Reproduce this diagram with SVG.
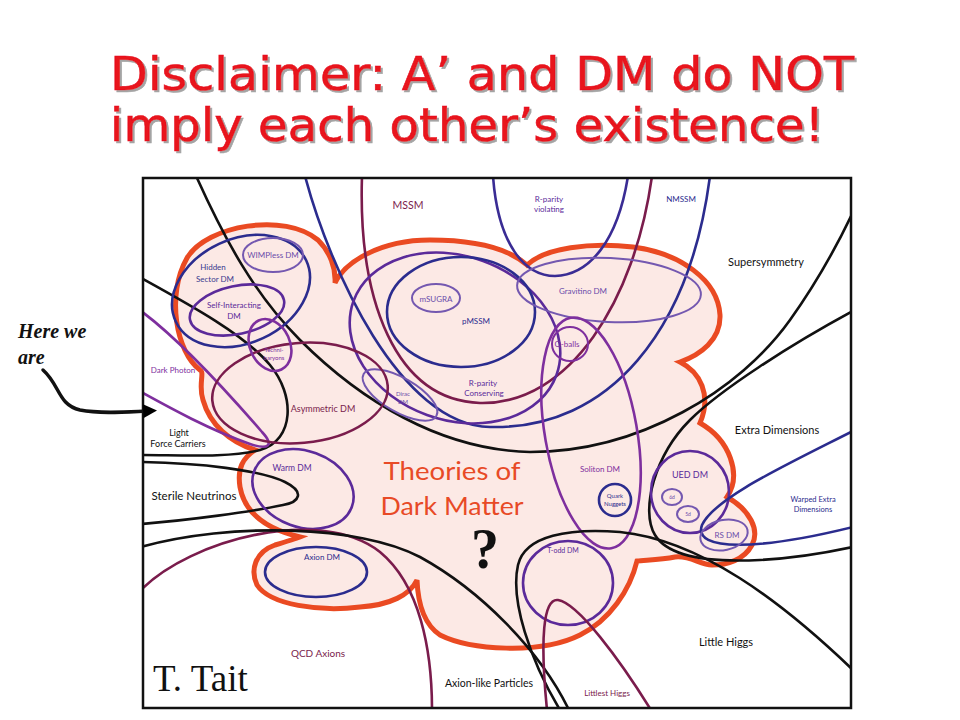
<svg xmlns="http://www.w3.org/2000/svg" width="960" height="720" viewBox="0 0 960 720">
<defs>
<clipPath id="frameClip"><rect x="143" y="178" width="708" height="530"/></clipPath>
<filter id="titleShadow" x="-5%" y="-20%" width="110%" height="150%"><feDropShadow dx="2" dy="2" stdDeviation="0.6" flood-color="#9a9a9a" flood-opacity="0.9"/></filter>
<marker id="arrowHead" viewBox="0 0 10 10" refX="2" refY="5" markerWidth="4" markerHeight="4" orient="auto" markerUnits="strokeWidth"><path d="M0,0 L10,5 L0,10 z" fill="#000"/></marker>
<style>
.ln{fill:none;stroke-width:2.6;stroke-linecap:round}
.blk{stroke:#111}
.navy{stroke:#2b2c8e}
.vio{stroke:#5b2a9a}
.pur{stroke:#7e2f9e}
.lv{stroke:#7458b0;stroke-width:2}
.mar{stroke:#7a1c4c}
.t{font-family:Lato,"Open Sans","Liberation Sans",sans-serif;text-anchor:middle}
.s6{font-size:6px}.s8{font-size:8px}.s9{font-size:9px}.s11{font-size:11px}
.cnavy{fill:#2b2c8e}.cvio{fill:#5b2a9a}.cpur{fill:#7e2f9e}.clv{fill:#6a4caa}.cmar{fill:#7a1c4c}.cblk{fill:#111}
.title{font-family:"DejaVu Sans","Liberation Sans",sans-serif;font-size:46px;fill:#e8121e;stroke:#e8121e;stroke-width:0.6;filter:url(#titleShadow)}
</style>
</defs>
<rect width="960" height="720" fill="#fff"/>

<g id="title">
<text class="title" x="110" y="90" textLength="744" lengthAdjust="spacingAndGlyphs">Disclaimer: A’ and DM do NOT</text>
<text class="title" x="110" y="141" textLength="714" lengthAdjust="spacingAndGlyphs">imply each other’s existence!</text>
</g>

<g id="theories-of-dark-matter">
<path d="M200,370 C176,352 166,295 187,258 C207,225 285,212 318,240 C330,252 336,268 335,283 C345,262 380,240 430,240 C480,240 510,250 527,265 C545,248 590,242 633,247 C680,253 718,280 720,315 C721,340 700,355 680,362 C700,372 712,395 700,423 C730,440 742,475 727,497 C750,510 760,530 752,545 C744,560 727,565 712,565 C700,565 690,555 675,557 C660,560 645,560 637,561 C630,590 610,620 580,635 C540,655 470,650 440,635 C425,625 418,605 417,580 C410,595 390,605 360,607 C320,612 270,605 257,585 C250,570 255,552 275,545 C285,542 295,539 300,537 C270,530 245,515 240,487 C237,468 243,458 255,450 C230,442 210,425 203,400 C198,385 205,372 200,370 Z" fill="#fce9e5" stroke="#ea4a22" stroke-width="5" stroke-linejoin="miter"/>
<text class="t" x="452" y="480" font-size="25" fill="#e84a26" textLength="137" lengthAdjust="spacingAndGlyphs">Theories of</text>
<text class="t" x="452" y="515" font-size="25" fill="#e84a26" textLength="143" lengthAdjust="spacingAndGlyphs">Dark Matter</text>
<text x="485" y="568" font-family="'Liberation Serif',serif" font-weight="bold" font-size="56" text-anchor="middle" fill="#111">?</text>
</g>

<g clip-path="url(#frameClip)">
<g id="supersymmetry">
<path class="ln blk" d="M197,178 C225,240 255,295 300,340 C360,400 440,450 530,452 C640,452 740,390 790,320 C815,285 835,250 853,212"/>
<text class="t s11 cblk" x="766" y="266">Supersymmetry</text>
</g>
<g id="mssm">
<path class="ln mar" d="M362,176 C358,300 395,400 480,403 C570,405 635,300 652,176"/>
<text class="t cmar" x="408" y="209" font-size="10.5">MSSM</text>
</g>
<g id="nmssm">
<path class="ln navy" d="M305,176 C330,270 400,425 490,427 C610,430 690,330 710,176"/>
<text class="t s8 cnavy" x="681" y="202">NMSSM</text>
</g>
<g id="r-parity-violating">
<path class="ln navy" d="M493,176 C498,245 525,276 555,276 C590,275 618,240 628,176" style="stroke:#3a2c94"/>
<text class="t s8 cvio" x="549" y="202">R-parity</text>
<text class="t s8 cvio" x="549" y="212">violating</text>
</g>
<g id="r-parity-conserving">
<ellipse class="ln vio" cx="455" cy="338" rx="108" ry="82" transform="rotate(20 455 338)"/>
<text class="t s8 cvio" x="483" y="386">R-parity</text>
<text class="t s8 cvio" x="484" y="396">Conserving</text>
</g>
<g id="pmssm">
<ellipse class="ln navy" cx="461" cy="312" rx="74" ry="55"/>
<text class="t s8 cnavy" x="476" y="324">pMSSM</text>
</g>
<g id="msugra">
<ellipse class="ln lv" cx="436" cy="298" rx="24" ry="14"/>
<text class="t s8 clv" x="436" y="302">mSUGRA</text>
</g>
<g id="gravitino-dm">
<ellipse class="ln lv" cx="609" cy="290" rx="92" ry="32" transform="rotate(3 609 290)"/>
<text class="t s8 clv" x="583" y="294">Gravitino DM</text>
</g>
<g id="q-balls">
<ellipse class="ln pur" cx="570" cy="344" rx="18" ry="17" style="stroke-width:2"/>
<text class="t s8 cpur" x="567" y="347">Q-balls</text>
</g>
<g id="dirac-dm">
<ellipse class="ln lv" cx="400" cy="395" rx="42" ry="17" transform="rotate(30 400 395)"/>
<text class="t s6 clv" x="403" y="396">Dirac</text>
<text class="t s6 clv" x="403" y="404">DM</text>
</g>
<g id="light-force-carriers">
<path class="ln blk" d="M141,278 C190,305 245,335 270,365 C295,395 295,440 260,450 C230,458 180,455 141,455"/>
<text class="t s9 cblk" x="179" y="436">Light</text>
<text class="t s9 cblk" x="178" y="447">Force Carriers</text>
</g>
<g id="dark-photon">
<path class="ln pur" d="M141,311 C180,340 230,395 262,432 C275,446 268,450 250,444 C210,430 170,408 141,392"/>
<text class="t s8 cpur" x="173" y="373">Dark Photon</text>
</g>
<g id="hidden-sector-dm">
<ellipse class="ln navy" cx="241" cy="291" rx="72" ry="52" transform="rotate(-25 241 291)"/>
<text class="t s8" x="213" y="270" fill="#3a3b8f">Hidden</text>
<text class="t s8" x="215" y="282" fill="#3a3b8f">Sector DM</text>
</g>
<g id="wimpless-dm">
<ellipse class="ln lv" cx="273" cy="255" rx="30" ry="17"/>
<text class="t s8 clv" x="273" y="258">WIMPless DM</text>
</g>
<g id="self-interacting-dm">
<ellipse class="ln vio" cx="237" cy="310" rx="48" ry="24" transform="rotate(-12 237 310)"/>
<text class="t s8 cvio" x="234" y="308">Self-Interacting</text>
<text class="t s8 cvio" x="234" y="319">DM</text>
</g>
<g id="asymmetric-dm">
<ellipse class="ln mar" cx="300" cy="393" rx="88" ry="50" transform="rotate(-5 300 393)"/>
<text class="t s9 cmar" x="323" y="412">Asymmetric DM</text>
</g>
<g id="techni-baryons">
<ellipse class="ln pur" cx="270" cy="345" rx="20" ry="27" transform="rotate(-25 270 345)"/>
<text class="t s6 cpur" x="274" y="352">Techni-</text>
<text class="t s6 cpur" x="274" y="360">baryons</text>
</g>
<g id="sterile-neutrinos">
<path class="ln blk" d="M141,462 C200,463 260,470 285,482 C305,492 300,502 283,505 C250,512 190,520 141,524"/>
<text class="t cblk" x="194" y="500" font-size="11.5">Sterile Neutrinos</text>
</g>
<g id="warm-dm">
<ellipse class="ln vio" cx="303" cy="489" rx="52" ry="38" transform="rotate(20 303 489)"/>
<text class="t cvio" x="292" y="471" font-size="8.5">Warm DM</text>
</g>
<g id="axion-dm">
<ellipse class="ln navy" cx="316" cy="572" rx="51" ry="25"/>
<text class="t s8 cnavy" x="322" y="560">Axion DM</text>
</g>
<g id="qcd-axions">
<path class="ln mar" d="M141,590 C190,540 320,505 380,552 C420,585 432,650 432,710"/>
<text class="t cmar" x="318" y="657" font-size="10">QCD Axions</text>
</g>
<g id="axion-like-particles">
<path class="ln blk" d="M141,547 C230,522 360,525 420,557 C480,590 540,650 569,710"/>
<text class="t cblk" x="489" y="687" font-size="10.5">Axion-like Particles</text>
</g>
<g id="soliton-dm">
<ellipse class="ln pur" cx="591" cy="433" rx="46" ry="117" transform="rotate(-10 591 433)"/>
<text class="t s8 cpur" x="600" y="472">Soliton DM</text>
</g>
<g id="quark-nuggets">
<circle class="ln navy" cx="615" cy="500" r="16"/>
<text class="t s6 cnavy" x="615" y="498">Quark</text>
<text class="t s6 cnavy" x="615" y="506">Nuggets</text>
</g>
<g id="little-higgs">
<path class="ln blk" d="M560,710 C530,660 510,600 518,565 C525,535 570,528 620,532 C700,540 780,600 853,670"/>
<text class="t s11 cblk" x="726" y="646">Little Higgs</text>
</g>
<g id="t-odd-dm">
<ellipse class="ln vio" cx="568" cy="583" rx="45" ry="42"/>
<text class="t cvio" x="563" y="553" font-size="7">T-odd DM</text>
</g>
<g id="littlest-higgs">
<path class="ln mar" d="M547,710 C540,640 543,598 558,600 C578,603 620,660 651,710"/>
<text class="t s8 cmar" x="607" y="696">Littlest Higgs</text>
</g>
<g id="extra-dimensions">
<path class="ln blk" d="M853,311 C790,345 720,390 690,420 C655,455 640,510 655,535 C670,560 720,562 760,560 C800,558 830,552 853,547"/>
<text class="t s11 cblk" x="777" y="434">Extra Dimensions</text>
</g>
<g id="ued-dm">
<ellipse class="ln vio" cx="690" cy="492" rx="39" ry="41"/>
<text class="t s9 cvio" x="690" y="478">UED DM</text>
</g>
<g id="ued-6d">
<ellipse class="ln lv" cx="672" cy="497" rx="10" ry="8"/>
<text class="t clv" x="672" y="499" font-size="5">6d</text>
</g>
<g id="ued-5d">
<ellipse class="ln lv" cx="688" cy="514" rx="11" ry="8"/>
<text class="t clv" x="688" y="516" font-size="5">5d</text>
</g>
<g id="warped-extra-dimensions">
<path class="ln navy" d="M853,431 C780,468 715,498 702,525 C692,552 760,550 853,527"/>
<text class="t cnavy" x="813" y="502" font-size="7.5">Warped Extra</text>
<text class="t cnavy" x="813" y="512" font-size="7.5">Dimensions</text>
</g>
<g id="rs-dm">
<ellipse class="ln lv" cx="724" cy="535" rx="24" ry="15" transform="rotate(-12 724 535)"/>
<text class="t s8 clv" x="727" y="538">RS DM</text>
</g>
</g>

<rect x="143" y="178" width="708" height="530" fill="none" stroke="#111" stroke-width="2.5"/>
<text x="153" y="691" font-family="'Liberation Serif',serif" font-size="37" fill="#111">T. Tait</text>

<g id="here-we-are">
<text x="18" y="338" font-family="'Liberation Serif',serif" font-weight="bold" font-style="italic" font-size="20" fill="#111">Here we</text>
<text x="18" y="364" font-family="'Liberation Serif',serif" font-weight="bold" font-style="italic" font-size="20" fill="#111">are</text>
</g>
<g id="connectors">
<path d="M43,370 C60,385 58,405 80,410 C100,414 125,412 146,411" fill="none" stroke="#111" stroke-width="3.5" stroke-linecap="round" marker-end="url(#arrowHead)"/>
</g>
</svg>
